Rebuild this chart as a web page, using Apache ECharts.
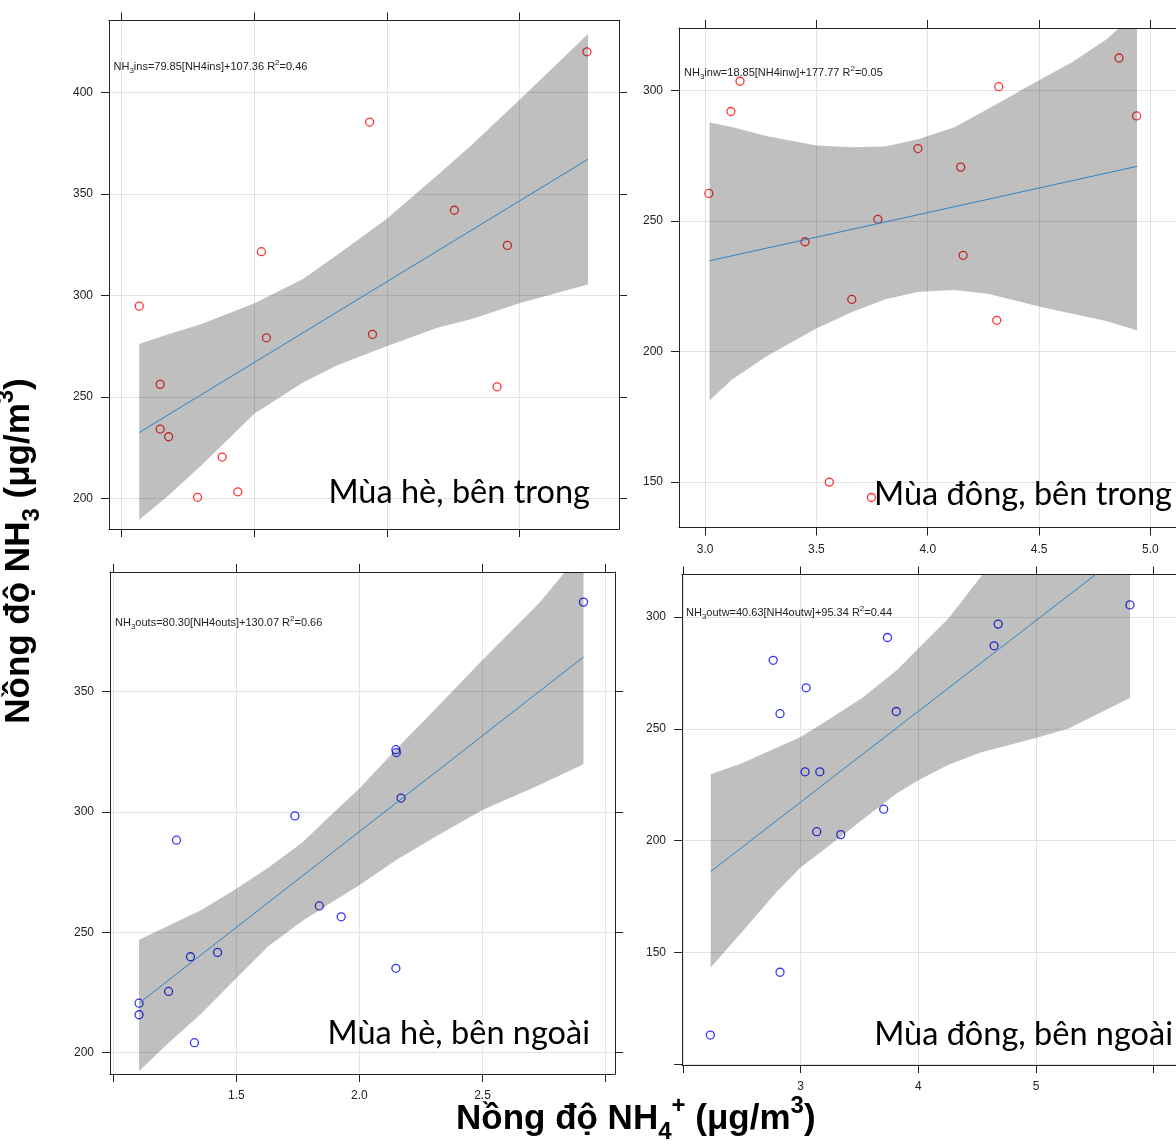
<!DOCTYPE html>
<html>
<head>
<meta charset="utf-8">
<script src="https://cdn.jsdelivr.net/npm/echarts@6/dist/echarts.min.js"></script>
<style>
html,body{margin:0;padding:0;background:#ffffff;}
#chart{width:1176px;height:1147px;}
</style>
</head>
<body>
<div id="chart"></div>
<script>
// ---------------- data ----------------
// Panel 1: Mùa hè, bên trong
const p1NH4 = [3.255, 2.435, 2.755, 2.027, 2.955, 1.566, 2.046, 2.446, 1.645, 2.916, 1.645, 1.677, 1.879, 1.938, 1.786];
const p1NH3 = [420.0, 385.4, 342.0, 321.6, 324.7, 294.8, 279.2, 280.9, 256.3, 255.1, 234.3, 230.5, 220.5, 203.4, 200.7];
const p1FitX = [1.566, 3.259];
const p1FitY = [232.6, 367.1];
const p1BandX = [1.566, 1.673, 1.801, 2.001, 2.184, 2.311, 2.499, 2.694, 2.821, 3.000, 3.259];
const p1BandLo = [189.7, 201.2, 216.5, 241.9, 257.2, 265.6, 275.0, 284.3, 288.5, 296.2, 305.5];
const p1BandHi = [276.2, 280.9, 286.0, 296.2, 308.1, 319.9, 337.7, 359.6, 374.2, 396.3, 428.8];

// Panel 2: Mùa đông, bên trong
const p2NH4 = [3.017, 3.116, 3.157, 3.449, 3.558, 3.659, 3.776, 3.747, 3.956, 4.148, 4.159, 4.319, 4.310, 4.859, 4.938];
const p2NH3 = [260.6, 292.0, 303.6, 242.1, 150.0, 220.0, 250.7, 144.1, 277.8, 270.7, 236.9, 301.5, 212.0, 312.5, 290.3];
const p2FitX = [3.020, 4.941];
const p2FitY = [234.8, 271.0];
const p2BandX = [3.02, 3.12, 3.28, 3.50, 3.66, 3.81, 3.96, 4.12, 4.27, 4.50, 4.65, 4.80, 4.94];
const p2BandLo = [181.3, 189.2, 198.4, 208.9, 215.2, 220.1, 222.9, 223.6, 222.2, 217.3, 214.5, 211.7, 208.2];
const p2BandHi = [287.8, 286.1, 282.5, 279.0, 278.3, 278.6, 281.5, 286.0, 293.0, 304.0, 311.0, 319.5, 330.0];

// Panel 3: Mùa hè, bên ngoài
const p3NH4 = [2.910, 2.148, 2.150, 2.169, 1.738, 1.257, 1.837, 1.926, 1.424, 1.314, 2.148, 1.225, 1.105, 1.105, 1.330];
const p3NH3 = [387.1, 325.8, 324.6, 305.7, 298.3, 288.2, 260.9, 256.4, 241.6, 239.8, 235.0, 225.4, 220.5, 215.7, 204.1];
const p3FitX = [1.105, 2.910];
const p3FitY = [220.5, 364.3];
const p3BandX = [1.105, 1.218, 1.356, 1.500, 1.631, 1.768, 1.906, 1.999, 2.148, 2.319, 2.500, 2.731, 2.910];
const p3BandLo = [192.3, 203.4, 216.0, 230.9, 244.3, 254.6, 263.6, 269.5, 279.9, 290.3, 300.7, 311.1, 319.7];
const p3BandHi = [246.9, 252.4, 259.1, 268.0, 276.9, 287.3, 300.7, 309.6, 325.9, 343.8, 363.1, 386.8, 408.9];

// Panel 4: Mùa đông, bên ngoài
const p4NH4 = [5.799, 4.679, 4.644, 3.738, 2.767, 3.047, 2.825, 3.813, 3.038, 3.163, 3.706, 3.137, 3.341, 2.825, 2.233];
const p4NH3 = [305.5, 296.9, 287.2, 290.9, 280.7, 268.4, 256.8, 257.8, 230.8, 230.8, 214.1, 204.0, 202.7, 141.1, 113.0];
const p4FitX = [2.236, 5.800];
const p4FitY = [186.2, 331.0];
const p4BandX = [2.236, 2.507, 2.799, 3.000, 3.236, 3.528, 3.819, 4.000, 4.257, 4.530, 5.000, 5.277, 5.799];
const p4BandLo = [143.2, 159.4, 177.2, 188.0, 197.5, 209.5, 221.2, 227.0, 234.0, 239.5, 245.9, 250.2, 263.8];
const p4BandHi = [229.7, 234.8, 241.7, 246.4, 254.1, 264.1, 276.4, 286.0, 299.5, 318.0, 351.0, 369.0, 398.0];

// tick values / labels
const p1XTicks = [1.5, 2.0, 2.5, 3.0];
const p1XLabels = [];
const p1YTicks = [200, 250, 300, 350, 400];
const p2XTicks = [3.0, 3.5, 4.0, 4.5, 5.0];
const p2XLabels = [3.0, 3.5, 4.0, 4.5, 5.0];
const p2YTicks = [150, 200, 250, 300];
const p3XTicks = [1.0, 1.5, 2.0, 2.5, 3.0];
const p3XLabels = [1.5, 2.0, 2.5];
const p3YTicks = [200, 250, 300, 350];
const p4XTicks = [2, 3, 4, 5, 6];
const p4XLabels = [3, 4, 5];
const p4YTicks = [100, 150, 200, 250, 300];
const p4YLabels = [150, 200, 250, 300];

// texts
const panelNames = ['Mùa hè, bên trong', 'Mùa đông, bên trong', 'Mùa hè, bên ngoài', 'Mùa đông, bên ngoài'];
const eqTexts = [
  ['NH', '3', 'ins=79.85[NH4ins]+107.36 R', '2', '=0.46'],
  ['NH', '3', 'inw=18.85[NH4inw]+177.77 R', '2', '=0.05'],
  ['NH', '3', 'outs=80.30[NH4outs]+130.07 R', '2', '=0.66'],
  ['NH', '3', 'outw=40.63[NH4outw]+95.34 R', '2', '=0.44']
];

// ---------------- layout ----------------
const grids = [
  {left: 109, top: 20.5, width: 510, height: 508.5},
  {left: 679, top: 28, width: 510, height: 499.5},
  {left: 110, top: 572, width: 505, height: 502},
  {left: 682, top: 574.5, width: 510, height: 490.5}
];
const ranges = [
  {xmin: 1.452, xmax: 3.376, ymin: 185.1, ymax: 435.4},
  {xmin: 2.883, xmax: 5.115, ymin: 132.6, ymax: 324.0},
  {xmin: 0.987, xmax: 3.038, ymin: 191.1, ymax: 399.6},
  {xmin: 1.992, xmax: 6.190, ymin: 99.6, ymax: 319.1}
];
const tickCfg = [
  {xt: p1XTicks, xl: p1XLabels, xf: v => v.toFixed(1), yt: p1YTicks, yl: p1YTicks},
  {xt: p2XTicks, xl: p2XLabels, xf: v => v.toFixed(1), yt: p2YTicks, yl: p2YTicks},
  {xt: p3XTicks, xl: p3XLabels, xf: v => v.toFixed(1), yt: p3YTicks, yl: p3YTicks},
  {xt: p4XTicks, xl: p4XLabels, xf: v => String(Math.round(v)), yt: p4YTicks, yl: p4YLabels}
];
const pointColors = ['#ff0000', '#ff0000', '#0000ff', '#0000ff'];
const FRAME = '#222222';
const LABEL_FONT = 'Liberation Sans, Arial, sans-serif';

const xAxes = [], yAxes = [];
for (let i = 0; i < 4; i++) {
  const r = ranges[i], t = tickCfg[i];
  const baseLine = {show: true, onZero: false, lineStyle: {color: FRAME, width: 1}};
  xAxes.push({
    type: 'value', gridIndex: i, position: 'bottom', min: r.xmin, max: r.xmax,
    axisLine: baseLine,
    axisTick: {show: true, length: 8, customValues: t.xt, lineStyle: {color: FRAME}},
    axisLabel: {show: t.xl.length > 0, customValues: t.xl, formatter: t.xf, margin: 16,
      fontSize: 12, color: '#222', fontFamily: LABEL_FONT},
    splitLine: {show: true, lineStyle: {color: '#e3e3e3', width: 1}}
  });
  xAxes.push({
    type: 'value', gridIndex: i, position: 'top', min: r.xmin, max: r.xmax,
    axisLine: baseLine,
    axisTick: {show: true, length: 8, customValues: t.xt, lineStyle: {color: FRAME}},
    axisLabel: {show: false},
    splitLine: {show: false}
  });
  yAxes.push({
    type: 'value', gridIndex: i, position: 'left', min: r.ymin, max: r.ymax,
    axisLine: baseLine,
    axisTick: {show: true, length: 8, customValues: t.yt, lineStyle: {color: FRAME}},
    axisLabel: {show: true, customValues: t.yl, formatter: v => String(Math.round(v)), margin: 16,
      fontSize: 12, color: '#222', fontFamily: LABEL_FONT},
    splitLine: {show: true, lineStyle: {color: '#e3e3e3', width: 1}}
  });
  yAxes.push({
    type: 'value', gridIndex: i, position: 'right', min: r.ymin, max: r.ymax,
    axisLine: baseLine,
    axisTick: {show: true, length: 8, customValues: t.yt, lineStyle: {color: FRAME}},
    axisLabel: {show: false},
    splitLine: {show: false}
  });
}

const panels = [
  {x: p1NH4, y: p1NH3, fx: p1FitX, fy: p1FitY, bx: p1BandX, lo: p1BandLo, hi: p1BandHi},
  {x: p2NH4, y: p2NH3, fx: p2FitX, fy: p2FitY, bx: p2BandX, lo: p2BandLo, hi: p2BandHi},
  {x: p3NH4, y: p3NH3, fx: p3FitX, fy: p3FitY, bx: p3BandX, lo: p3BandLo, hi: p3BandHi},
  {x: p4NH4, y: p4NH3, fx: p4FitX, fy: p4FitY, bx: p4BandX, lo: p4BandLo, hi: p4BandHi}
];

const series = [];
panels.forEach((p, i) => {
  series.push({
    type: 'scatter', xAxisIndex: 2 * i, yAxisIndex: 2 * i, z: 2, silent: true,
    symbol: 'circle', symbolSize: 8,
    itemStyle: {color: 'rgba(0,0,0,0)', borderColor: pointColors[i], borderWidth: 1.3},
    data: p.x.map((v, k) => [v, p.y[k]])
  });
  series.push({
    type: 'custom', xAxisIndex: 2 * i, yAxisIndex: 2 * i, z: 3, silent: true, clip: true,
    data: p.bx.map((v, k) => [v, p.lo[k], p.hi[k]]),
    encode: {x: 0, y: [1, 2]},
    renderItem: function (params, api) {
      if (params.dataIndex !== 0) return null;
      const pts = [];
      for (let k = 0; k < p.bx.length; k++) pts.push(api.coord([p.bx[k], p.hi[k]]));
      for (let k = p.bx.length - 1; k >= 0; k--) pts.push(api.coord([p.bx[k], p.lo[k]]));
      const cs = params.coordSys;
      return {
        type: 'polygon',
        shape: {points: pts},
        style: {fill: 'rgba(0,0,0,0.25)'},
        clipPath: {type: 'rect', shape: {x: cs.x, y: cs.y, width: cs.width, height: cs.height}}
      };
    }
  });
  series.push({
    type: 'line', xAxisIndex: 2 * i, yAxisIndex: 2 * i, z: 4, silent: true,
    symbol: 'none', clip: true,
    lineStyle: {color: '#2c83c3', width: 1},
    data: p.fx.map((v, k) => [v, p.fy[k]])
  });
});

// ---------------- text annotations ----------------
const eqPos = [[113.5, 67], [684, 72.5], [115, 623], [686, 612.5]];
const namePos = [[590, 493], [1172, 494.5], [590, 1033.5], [1173, 1034.5]];
const graphics = [];
const eqRich = {
  t: {fontSize: 11, fontFamily: LABEL_FONT, fill: '#222', lineHeight: 16, verticalAlign: 'middle'},
  s: {fontSize: 8, fontFamily: LABEL_FONT, fill: '#222', lineHeight: 16, verticalAlign: 'bottom'},
  p: {fontSize: 8, fontFamily: LABEL_FONT, fill: '#222', lineHeight: 16, verticalAlign: 'top'}
};
eqTexts.forEach((e, i) => {
  graphics.push({
    type: 'text', x: eqPos[i][0], y: eqPos[i][1], z: 10, silent: true,
    style: {
      text: '{t|' + e[0] + '}{s|' + e[1] + '}{t|' + e[2] + '}{p|' + e[3] + '}{t|' + e[4] + '}',
      rich: eqRich, textAlign: 'left', align: 'left', textVerticalAlign: 'middle', verticalAlign: 'middle'
    }
  });
});
panelNames.forEach((n, i) => {
  graphics.push({
    type: 'text', x: namePos[i][0], y: namePos[i][1], z: 10, silent: true,
    style: {
      text: n, font: '32.5px Lato, "Noto Sans", sans-serif', fill: '#000',
      textAlign: 'right', align: 'right', textVerticalAlign: 'middle', verticalAlign: 'middle'
    }
  });
});
const titleRich = {
  t: {fontSize: 35, fontWeight: 'bold', fontFamily: LABEL_FONT, fill: '#000', lineHeight: 50, verticalAlign: 'middle'},
  s: {fontSize: 24, fontWeight: 'bold', fontFamily: LABEL_FONT, fill: '#000', lineHeight: 50, verticalAlign: 'bottom'},
  p: {fontSize: 24, fontWeight: 'bold', fontFamily: LABEL_FONT, fill: '#000', lineHeight: 50, verticalAlign: 'top'}
};
const xTitle = ['Nồng độ NH', '4', '+', ' (μg/m', '3', ')'];
const yTitle = ['Nồng độ NH', '3', ' (μg/m', '3', ')'];
graphics.push({
  type: 'text', x: 456, y: 1119, z: 10, silent: true,
  style: {
    text: '{t|' + xTitle[0] + '}{s|' + xTitle[1] + '}{p|' + xTitle[2] + '}{t|' + xTitle[3] + '}{p|' + xTitle[4] + '}{t|' + xTitle[5] + '}',
    rich: titleRich, textAlign: 'left', align: 'left', textVerticalAlign: 'middle', verticalAlign: 'middle'
  }
});
graphics.push({
  type: 'text', x: 19, y: 551, rotation: Math.PI / 2, z: 10, silent: true,
  style: {
    text: '{t|' + yTitle[0] + '}{s|' + yTitle[1] + '}{t|' + yTitle[2] + '}{p|' + yTitle[3] + '}{t|' + yTitle[4] + '}',
    rich: titleRich, textAlign: 'center', align: 'center', textVerticalAlign: 'middle', verticalAlign: 'middle'
  }
});

const chart = echarts.init(document.getElementById('chart'), null, {renderer: 'canvas'});
chart.setOption({
  backgroundColor: '#ffffff',
  animation: false,
  grid: grids.map(g => Object.assign({show: false, containLabel: false}, g)),
  xAxis: xAxes,
  yAxis: yAxes,
  series: series,
  graphic: graphics
});
</script>
</body>
</html>
